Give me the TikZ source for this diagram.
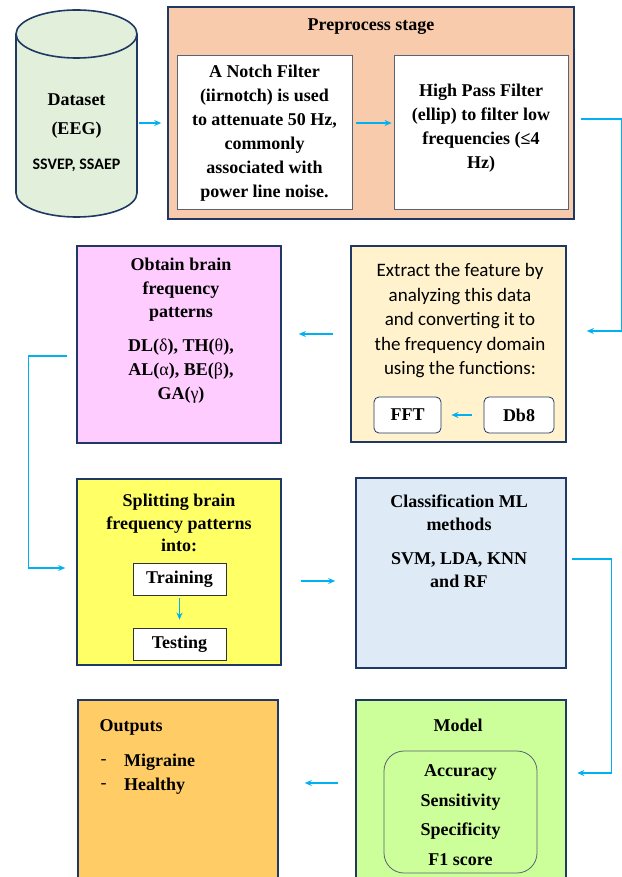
\documentclass[tikz,border=0pt]{standalone}
\usepackage{fontspec}
\setmainfont{Liberation Serif}
\newfontfamily\calibrifont{Carlito}
\usetikzlibrary{arrows.meta, positioning, calc}
\definecolor{boxnavy}{HTML}{203864}
\definecolor{arrowcyan}{HTML}{00B0F0}
\definecolor{dbgreen}{HTML}{E2EFDA}
\definecolor{prepeach}{HTML}{F8CBAD}
\definecolor{featcream}{HTML}{FFF2CC}
\definecolor{bandpink}{HTML}{FFCCFF}
\definecolor{splityellow}{HTML}{FFFF66}
\definecolor{clsblue}{HTML}{DEEBF7}
\definecolor{modelgreen}{HTML}{CCFF99}
\definecolor{outorange}{HTML}{FFCC66}

\tikzset{
  stagebox/.style={draw=boxnavy, line width=1.6pt, inner sep=0pt},
  innerbox/.style={draw=gray!60!boxnavy, line width=0.8pt, fill=white, inner sep=0pt},
  keybox/.style={draw=boxnavy, line width=0.8pt, fill=white, rounded corners=5pt, inner sep=0pt},
  flow/.style={draw=arrowcyan, line width=1.4pt, -{Stealth[length=7pt,width=6pt]}},
  serifbold/.style={font=\fontsize{18}{24}\selectfont\bfseries, align=center, inner sep=0pt},
  calitext/.style={font=\calibrifont\fontsize{19}{24.5}\selectfont, align=center, inner sep=0pt},
}

\begin{document}
\begin{tikzpicture}[x=1pt, y=-1pt]
  \useasboundingbox (0,0) rectangle (621,877);

  % Dataset cylinder
  \draw[boxnavy, line width=1.6pt, fill=dbgreen]
    (16,34) -- (16,193) arc[start angle=180, end angle=360, x radius=60.5pt, y radius=24pt] -- (137,34);
  \draw[boxnavy, line width=1.6pt, fill=dbgreen] (76.5,34) ellipse[x radius=60.5pt, y radius=24pt];
  \node[minimum width=121pt, minimum height=190pt, inner sep=0pt] (data) at (76.5,123) {};
  \node[serifbold] (dataname) at (76.5,100) {Dataset};
  \node[serifbold] (datakind) at (76.5,130) {(EEG)};
  \node[font=\calibrifont\fontsize{16}{19}\selectfont\bfseries, inner sep=0pt] (datasig) at (76.5,165) {SSVEP, SSAEP};

  % Preprocess stage
  \node[stagebox, fill=prepeach, minimum width=406pt, minimum height=212pt] (pre) at (371,113) {};
  \node[serifbold] (pretitle) at (371,27) {Preprocess stage};
  \node[innerbox, minimum width=175pt, minimum height=154pt] (notch) at (264.5,132) {};
  \node[serifbold] (notchtext) at (264.5,133) {A Notch Filter\\(iirnotch) is used\\to attenuate 50 Hz,\\commonly\\associated with\\power line noise.};
  \node[innerbox, minimum width=174pt, minimum height=154pt] (hpf) at (481,132) {};
  \node[serifbold] (hpftext) at (481,128) {High Pass Filter\\(ellip) to filter low\\frequencies (≤4\\Hz)};

  % Feature extraction
  \node[stagebox, fill=featcream, minimum width=215pt, minimum height=196pt] (extract) at (458.5,344) {};
  \node[calitext] (extracttext) at (460,321) {Extract the feature by\\analyzing this data\\and converting it to\\the frequency domain\\using the functions:};
  \node[keybox, minimum width=67pt, minimum height=36pt, serifbold] (fft) at (407.5,415) {FFT};
  \node[keybox, minimum width=70pt, minimum height=36pt, serifbold] (db8) at (519,415) {Db8};

  % Brain frequency patterns
  \node[stagebox, fill=bandpink, minimum width=204pt, minimum height=197pt] (obtain) at (179,344.5) {};
  \node[serifbold, font=\fontsize{18}{23.5}\selectfont\bfseries] (obtainhead) at (181,290) {Obtain brain\\frequency\\patterns};
  \node[serifbold, font=\fontsize{18}{24}\selectfont\bfseries] (obtainbands) at (181,371)
    {DL({\mdseries δ}), TH({\mdseries θ}),\\AL({\mdseries α}), BE({\mdseries β}),\\GA({\mdseries γ})};

  % Splitting
  \node[stagebox, fill=splityellow, minimum width=204pt, minimum height=186pt] (split) at (179,572) {};
  \node[serifbold, font=\fontsize{18}{22.5}\selectfont\bfseries] (splittext) at (179,523) {Splitting brain\\frequency patterns\\into:};
  \node[innerbox, draw=black!80, minimum width=93pt, minimum height=32pt, serifbold] (train) at (179.5,579) {Training};
  \node[innerbox, draw=black!80, minimum width=93pt, minimum height=32pt, serifbold] (test) at (179.5,644) {Testing};

  % Classification
  \node[stagebox, fill=clsblue, minimum width=210pt, minimum height=190pt] (cls) at (461,573) {};
  \node[serifbold, font=\fontsize{18}{23}\selectfont\bfseries] (clshead) at (459,513) {Classification ML\\methods};
  \node[serifbold, font=\fontsize{18}{23}\selectfont\bfseries] (clsnames) at (459,570) {SVM, LDA, KNN\\and RF};

  % Model
  \node[stagebox, fill=modelgreen, minimum width=210pt, minimum height=180pt] (model) at (461,790) {};
  \node[serifbold] (modeltitle) at (458,725) {Model};
  \node[draw=gray!60!boxnavy, line width=0.8pt, rounded corners=20pt, minimum width=153pt, minimum height=122pt, inner sep=0pt] (metrics) at (460.5,812) {};
  \node[serifbold, font=\fontsize{18}{29.5}\selectfont\bfseries] (metrictext) at (460.5,815) {Accuracy\\Sensitivity\\Specificity\\F1 score};

  % Outputs
  \node[stagebox, fill=outorange, minimum width=200pt, minimum height=180pt] (outputs) at (178,790) {};
  \node[serifbold, anchor=west] (outtitle) at (99.5,727) {Outputs};
  \node[serifbold, anchor=west, font=\fontsize{18}{24}\selectfont\mdseries] (dashone) at (100.5,762) {-};
  \node[serifbold, anchor=west] (outmig) at (124,762) {Migraine};
  \node[serifbold, anchor=west, font=\fontsize{18}{24}\selectfont\mdseries] (dashtwo) at (100.5,786) {-};
  \node[serifbold, anchor=west] (outhea) at (124,786) {Healthy};

  % Connectors
  \draw[flow, shorten <=2pt, shorten >=6pt] (data.east) -- (data.east -| pre.west);
  \draw[flow, shorten <=4pt, shorten >=2pt] ([yshift=9pt]notch.east) -- ([yshift=9pt]hpf.west);
  \draw[flow, shorten <=6pt, shorten >=20pt] ([yshift=-6pt]pre.east) -- ++(46.5,0) |- ([yshift=13pt]extract.east);
  \path ([yshift=10pt]extract.west) coordinate (featout);
  \draw[flow, shorten <=17pt, shorten >=17pt] (featout) -- (featout -| obtain.east);
  \draw[flow, shorten <=11.5pt, shorten >=10pt] (db8.west) -- (fft.east);
  \draw[flow, shorten <=9pt, shorten >=11pt] ([yshift=-11.5pt]obtain.west) -- ++(-48,0) |- ([yshift=4pt]split.west);
  \draw[flow, shorten <=3pt, shorten >=8pt] (train.south) -- (test.north);
  \path ([yshift=-9pt]split.east) coordinate (splitout);
  \draw[flow, shorten <=19pt, shorten >=20pt] (splitout) -- (splitout -| cls.west);
  \draw[flow, shorten <=5pt, shorten >=10.5pt] ([yshift=14pt]cls.east) -- ++(44.6,0) |- ([yshift=17pt]model.east);
  \path ([yshift=7pt]model.west) coordinate (modelout);
  \draw[flow, shorten <=17pt, shorten >=26pt] (modelout) -- (modelout -| outputs.east);
\end{tikzpicture}
\end{document}
